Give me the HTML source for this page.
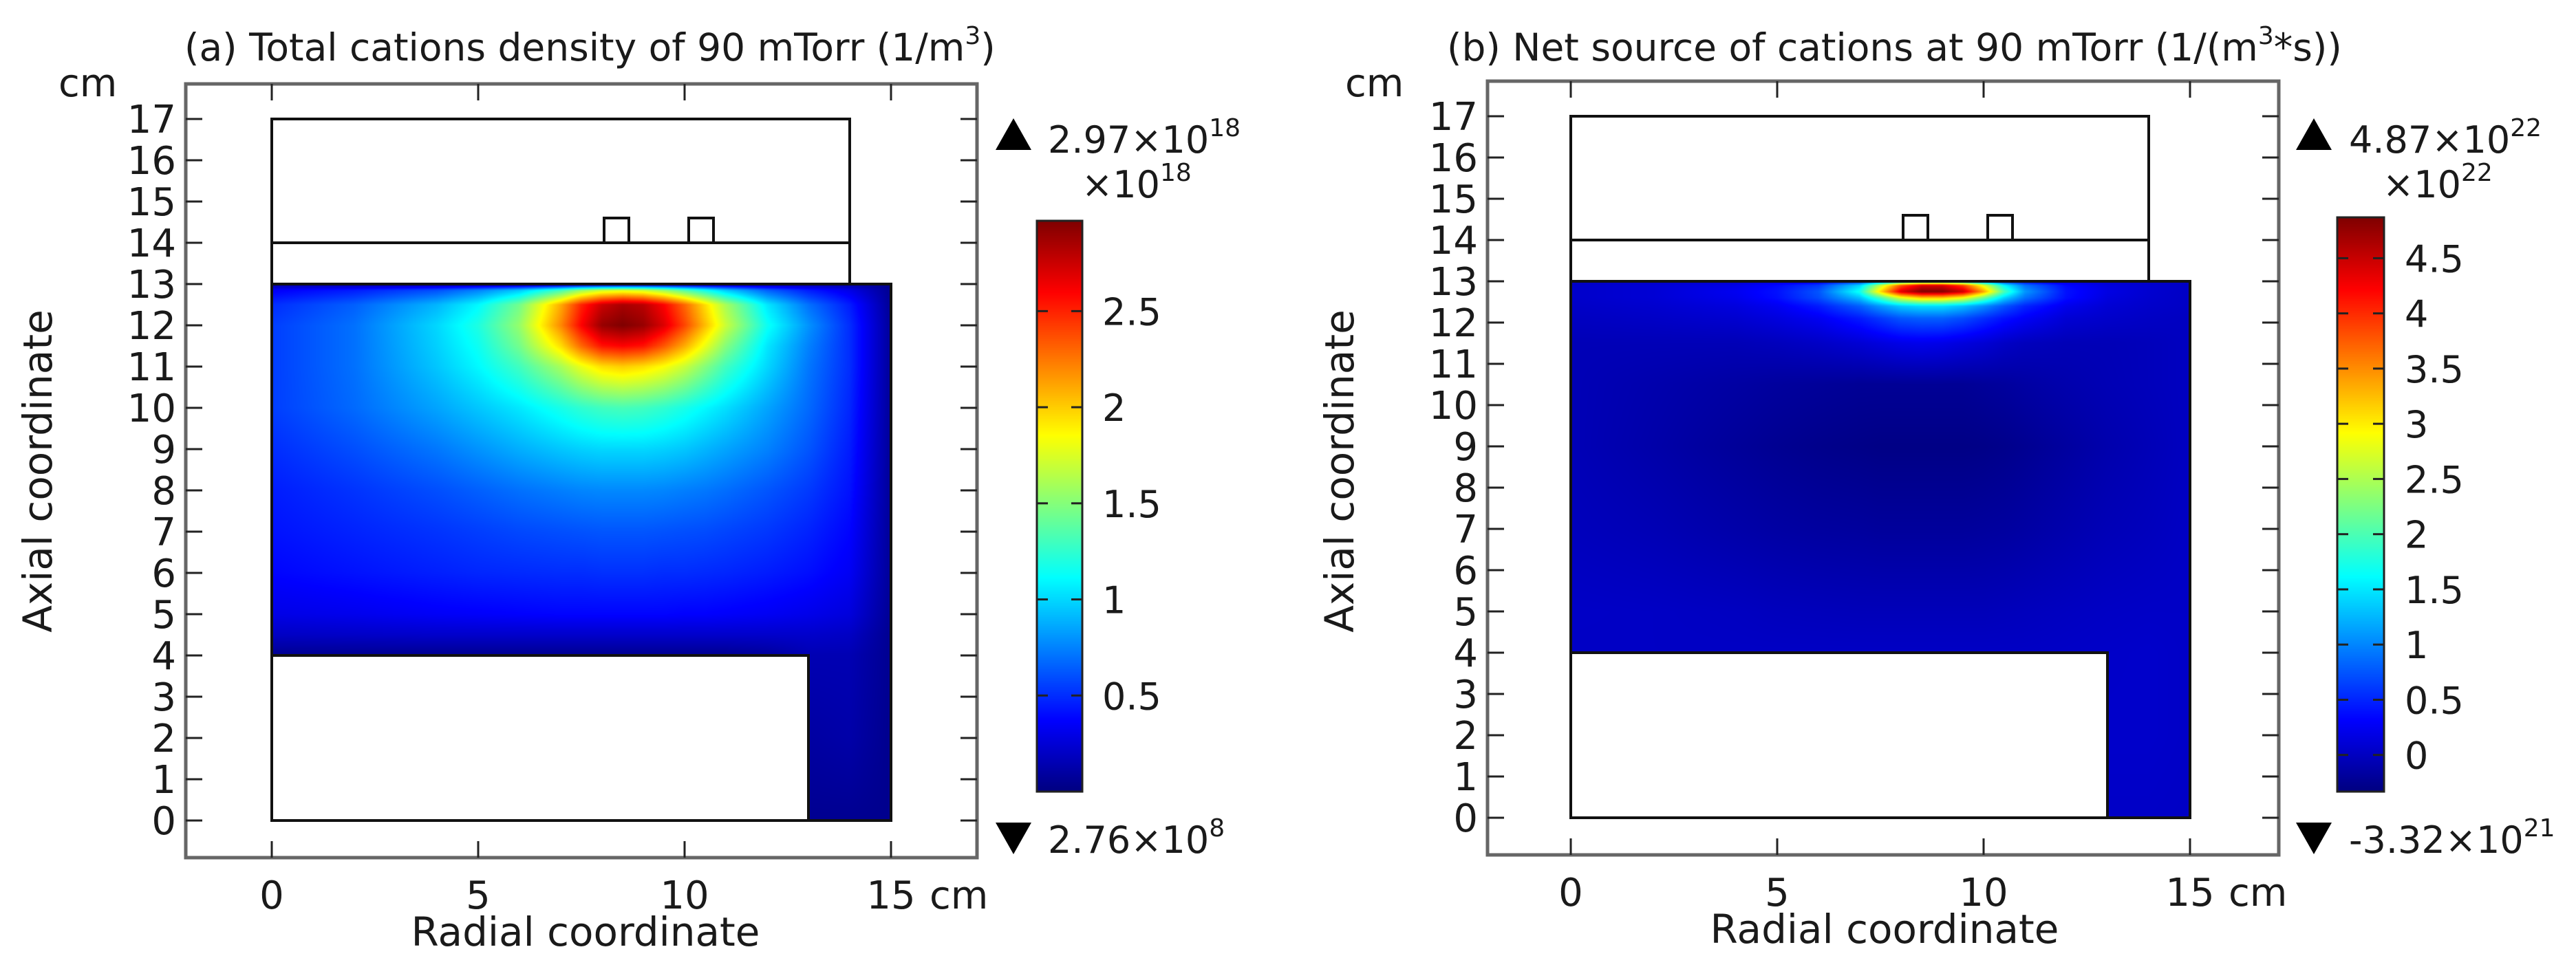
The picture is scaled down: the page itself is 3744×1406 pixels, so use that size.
<!DOCTYPE html>
<html><head><meta charset="utf-8"><style>
html,body{margin:0;padding:0;background:#fff;}
#wrap{position:relative;width:3744px;height:1406px;overflow:hidden;font-family:"DejaVu Sans","Liberation Sans",sans-serif;}
canvas{position:absolute;}
svg{position:absolute;left:0;top:0;}
text{font-family:"DejaVu Sans","Liberation Sans",sans-serif;fill:#1a1a1a;}
</style></head><body>
<div id="wrap">
<canvas id="cvA"></canvas>
<canvas id="cvB"></canvas>
<canvas id="cbA"></canvas>
<canvas id="cbB"></canvas>
<svg id="sv" width="3744" height="1406"></svg>
</div>
<script>
// grid columns (radial, cm)
const gridR = [0,2,4,5,6,7,7.5,8,8.5,9,9.5,10,10.5,11,12,13,14,15];
// panel a rows (axial, cm) and values (x1e18 1/m^3)
const gridZA = [13,12.85,12.5,12,11.5,11,10,9,8,7,6,5,4.5,4,2,0];
const valuesA = [
 [0.08,0.08,0.08,0.08,0.08,0.09,0.1,0.1,0.1,0.1,0.1,0.1,0.09,0.09,0.08,0.08,0.08,0.03],
 [0.35,0.45,0.6,0.75,0.95,1.3,1.55,1.7,1.75,1.7,1.55,1.35,1.15,0.95,0.65,0.45,0.3,0.05],
 [0.5,0.65,0.9,1.1,1.45,2.1,2.5,2.75,2.85,2.8,2.6,2.3,1.95,1.6,1.05,0.7,0.45,0.06],
 [0.55,0.7,1.0,1.2,1.55,2.2,2.6,2.9,2.97,2.9,2.7,2.4,2.05,1.7,1.15,0.8,0.5,0.07],
 [0.55,0.7,0.98,1.15,1.45,1.95,2.3,2.55,2.6,2.55,2.35,2.1,1.8,1.5,1.05,0.75,0.5,0.07],
 [0.55,0.7,0.95,1.1,1.3,1.6,1.8,1.95,2.0,1.95,1.85,1.7,1.5,1.3,1.0,0.72,0.5,0.07],
 [0.55,0.68,0.85,0.95,1.05,1.18,1.25,1.3,1.32,1.3,1.25,1.18,1.1,1.02,0.85,0.68,0.48,0.07],
 [0.5,0.6,0.72,0.8,0.88,0.95,0.98,1.0,1.0,1.0,0.98,0.95,0.9,0.85,0.75,0.62,0.45,0.07],
 [0.45,0.52,0.6,0.65,0.7,0.74,0.76,0.77,0.77,0.77,0.76,0.74,0.72,0.69,0.62,0.54,0.42,0.07],
 [0.42,0.47,0.52,0.55,0.58,0.6,0.61,0.62,0.62,0.62,0.61,0.6,0.59,0.57,0.53,0.47,0.38,0.07],
 [0.38,0.42,0.46,0.48,0.49,0.5,0.5,0.51,0.51,0.51,0.5,0.5,0.49,0.48,0.45,0.41,0.34,0.07],
 [0.3,0.32,0.35,0.36,0.37,0.38,0.38,0.38,0.38,0.38,0.38,0.37,0.37,0.36,0.34,0.31,0.27,0.06],
 [0.2,0.21,0.22,0.22,0.22,0.22,0.22,0.22,0.22,0.22,0.22,0.22,0.22,0.22,0.22,0.22,0.2,0.05],
 [0.05,0.05,0.05,0.05,0.05,0.05,0.05,0.05,0.05,0.05,0.05,0.05,0.05,0.05,0.08,0.15,0.15,0.05],
 [0.1,0.1,0.1,0.1,0.1,0.1,0.1,0.1,0.1,0.1,0.1,0.1,0.1,0.1,0.1,0.1,0.12,0.04],
 [0.05,0.05,0.05,0.05,0.05,0.05,0.05,0.05,0.05,0.05,0.05,0.05,0.05,0.05,0.05,0.05,0.05,0.04]
];
// panel b rows and values (x1e22 1/(m^3 s))
const gridZB = [13,12.9,12.75,12.6,12.4,12.1,11.5,10.5,9,7,5,4,2,0];
const valuesB = [
 [0.0,0.02,0.05,0.1,0.2,0.5,0.9,1.3,1.5,1.5,1.3,0.9,0.5,0.3,0.1,0.05,0.02,0.0],
 [0.05,0.1,0.2,0.35,0.6,1.4,2.6,3.8,4.4,4.4,3.9,2.8,1.6,0.9,0.35,0.15,0.08,0.02],
 [0.05,0.1,0.25,0.4,0.75,1.7,3.1,4.4,4.87,4.85,4.5,3.4,2.0,1.1,0.4,0.18,0.08,0.02],
 [0.05,0.1,0.22,0.38,0.7,1.3,2.0,2.8,3.2,3.2,2.9,2.2,1.4,0.9,0.38,0.15,0.07,0.02],
 [0.03,0.07,0.15,0.25,0.45,0.8,1.1,1.35,1.45,1.45,1.3,1.05,0.75,0.5,0.22,0.1,0.05,0.02],
 [0.0,0.03,0.08,0.15,0.25,0.45,0.6,0.75,0.8,0.8,0.7,0.55,0.4,0.28,0.1,0.05,0.02,0.0],
 [-0.05,-0.05,-0.05,-0.02,0.03,0.1,0.15,0.2,0.22,0.2,0.15,0.1,0.03,-0.02,-0.05,-0.05,-0.03,0.0],
 [-0.05,-0.1,-0.15,-0.18,-0.2,-0.22,-0.22,-0.22,-0.22,-0.22,-0.22,-0.2,-0.18,-0.15,-0.1,-0.06,-0.03,0.0],
 [-0.05,-0.12,-0.2,-0.24,-0.27,-0.29,-0.3,-0.3,-0.3,-0.3,-0.3,-0.29,-0.27,-0.24,-0.17,-0.1,-0.05,0.0],
 [-0.02,-0.06,-0.12,-0.15,-0.17,-0.18,-0.19,-0.19,-0.19,-0.19,-0.19,-0.18,-0.17,-0.15,-0.1,-0.05,-0.02,0.02],
 [0.03,0.02,0.0,-0.02,-0.03,-0.04,-0.04,-0.04,-0.04,-0.04,-0.04,-0.04,-0.03,-0.02,0.0,0.02,0.03,0.03],
 [0.02,0.02,0.02,0.02,0.02,0.02,0.02,0.02,0.02,0.02,0.02,0.02,0.02,0.02,0.03,0.04,0.05,0.03],
 [0.05,0.05,0.05,0.05,0.05,0.05,0.05,0.05,0.05,0.05,0.05,0.05,0.05,0.05,0.05,0.05,0.05,0.03],
 [0.03,0.03,0.03,0.03,0.03,0.03,0.03,0.03,0.03,0.03,0.03,0.03,0.03,0.03,0.03,0.03,0.03,0.02]
];
const rangeA = [0, 2.97];
const rangeB = [-0.332, 4.87];
const yTicks = [0,1,2,3,4,5,6,7,8,9,10,11,12,13,14,15,16,17];
const xTicks = [0,5,10,15];
const cbTicksA = [0.5,1,1.5,2,2.5];
const cbTicksB = [0,0.5,1,1.5,2,2.5,3,3.5,4,4.5];

const PX = 60;
const panels = [
 {id:'a', ox:395, oy:1193, frame:[270,122,1420,1247], cv:'cvA', cb:'cbA', zs:gridZA, vals:valuesA, range:rangeA, cbx:[1507,1573], cby:[321,1151], cbTicks:cbTicksA, cbLab:1602,
  title:'(a) Total cations density of 90 mTorr (1/m', titleEnd:')', titleX:268, maxT:['2.97×10','18'], minT:['2.76×10','8'], mult:'18', triX:1447, txtX:1523, multX:1572, cmX:85},
 {id:'b', ox:2283, oy:1189, frame:[2162,118,3312,1243], cv:'cvB', cb:'cbB', zs:gridZB, vals:valuesB, range:rangeB, cbx:[3397,3465], cby:[316,1151], cbTicks:cbTicksB, cbLab:3495,
  title:'(b) Net source of cations at 90 mTorr (1/(m', titleEnd:'*s))', titleX:2103, maxT:['4.87×10','22'], minT:['-3.32×10','21'], mult:'22', triX:3337, txtX:3414, multX:3463, cmX:1955}
];

function jet(t){
  t=Math.max(0,Math.min(1,t));
  const c=x=>Math.max(0,Math.min(1,x));
  return [c(1.5-Math.abs(4*t-3))*255, c(1.5-Math.abs(4*t-2))*255, c(1.5-Math.abs(4*t-1))*255];
}
function findIdx(arr,v,desc){
  for(let i=0;i<arr.length-1;i++){
    const a=arr[i],b=arr[i+1];
    if(desc? (v<=a&&v>=b) : (v>=a&&v<=b)) return i;
  }
  return desc? (v>arr[0]?0:arr.length-2) : (v<arr[0]?0:arr.length-2);
}
function sample(p,r,z){
  const i=findIdx(gridR,r,false), j=findIdx(p.zs,z,true);
  const tr=Math.max(0,Math.min(1,(r-gridR[i])/(gridR[i+1]-gridR[i])));
  const tz=Math.max(0,Math.min(1,(p.zs[j]-z)/(p.zs[j]-p.zs[j+1])));
  const v00=p.vals[j][i],v01=p.vals[j][i+1],v10=p.vals[j+1][i],v11=p.vals[j+1][i+1];
  return (v00*(1-tr)+v01*tr)*(1-tz)+(v10*(1-tr)+v11*tr)*tz;
}

const sv=document.getElementById('sv');
const NS='http://www.w3.org/2000/svg';
function mk(tag,attrs,text){
  const e=document.createElementNS(NS,tag);
  for(const k in attrs) e.setAttribute(k,attrs[k]);
  if(text!==undefined) e.textContent=text;
  sv.appendChild(e); return e;
}

panels.forEach(p=>{
  const X=r=>p.ox+r*PX, Y=z=>p.oy-z*PX;
  const cv=document.getElementById(p.cv);
  const W=15*PX,H=13*PX;
  cv.width=W;cv.height=H;cv.style.left=X(0)+'px';cv.style.top=Y(13)+'px';
  const ctx=cv.getContext('2d'),img=ctx.createImageData(W,H);
  for(let jj=0;jj<H;jj++){
    const z=13-(jj+0.5)/PX;
    for(let ii=0;ii<W;ii++){
      const r=(ii+0.5)/PX;
      const k=(jj*W+ii)*4;
      if(z<4&&r<13){img.data[k+3]=0;continue;}
      const v=sample(p,r,z);
      const c=jet((v-p.range[0])/(p.range[1]-p.range[0]));
      img.data[k]=c[0];img.data[k+1]=c[1];img.data[k+2]=c[2];img.data[k+3]=255;
    }
  }
  ctx.putImageData(img,0,0);
  const cb=document.getElementById(p.cb);
  const cw=p.cbx[1]-p.cbx[0], ch=p.cby[1]-p.cby[0];
  cb.width=cw;cb.height=ch;cb.style.left=p.cbx[0]+'px';cb.style.top=p.cby[0]+'px';
  const cc=cb.getContext('2d');
  for(let y=0;y<ch;y++){const c=jet(1-y/ch);cc.fillStyle='rgb('+c.map(Math.round).join(',')+')';cc.fillRect(0,y,cw,1);}
  const cbVal=v=>p.cby[1]-(v-p.range[0])/(p.range[1]-p.range[0])*ch;
  const cbo=mk('rect',{x:p.cbx[0],y:p.cby[0],width:cw,height:ch,fill:'none',stroke:'#222','stroke-width':3});
  
  
  p.cbTicks.forEach(v=>{
    const y=cbVal(v);
    const t1=mk('line',{x1:p.cbx[0],x2:p.cbx[0]+16,y1:y,y2:y,stroke:'#222','stroke-width':3});
    
    
    const t2=mk('line',{x1:p.cbx[1]-16,x2:p.cbx[1],y1:y,y2:y,stroke:'#222','stroke-width':3});
    
    
    const tl=mk('text',{x:p.cbLab,y:y+20,'font-size':54},String(v));
    
    
  });
  const up=mk('polygon',{points:`${p.triX},218 ${p.triX+52},218 ${p.triX+26},172`,fill:'#000'});
  
  
  const dn=mk('polygon',{points:`${p.triX},1196 ${p.triX+52},1196 ${p.triX+26},1242`,fill:'#000'});
  
  
  const mx=mk('text',{x:p.txtX,y:222,'font-size':54});
  
  
  mx.innerHTML=p.maxT[0]+'<tspan dy="-24" font-size="36">'+p.maxT[1]+'</tspan>';
  const mu=mk('text',{x:p.multX,y:287,'font-size':54});
  
  
  mu.innerHTML='×10<tspan dy="-24" font-size="36">'+p.mult+'</tspan>';
  const mn=mk('text',{x:p.txtX,y:1240,'font-size':54});
  
  
  mn.innerHTML=p.minT[0]+'<tspan dy="-24" font-size="36">'+p.minT[1]+'</tspan>';
  const geo=[
    [[X(0),Y(13)],[X(0),Y(17)],[X(14),Y(17)],[X(14),Y(13)]],
    [[X(0),Y(14)],[X(14),Y(14)]],
    [[X(8.05),Y(14)],[X(8.05),Y(14.6)],[X(8.65),Y(14.6)],[X(8.65),Y(14)]],
    [[X(10.1),Y(14)],[X(10.1),Y(14.6)],[X(10.7),Y(14.6)],[X(10.7),Y(14)]],
    [[X(0),Y(4)],[X(0),Y(13)],[X(15),Y(13)],[X(15),Y(0)],[X(0),Y(0)],[X(0),Y(4)],[X(13),Y(4)],[X(13),Y(0)]]
  ];
  geo.forEach((g,gi)=>{
    const pl=mk('polyline',{points:g.map(q=>q.join(',')).join(' '),fill:'none',stroke:'#111','stroke-width':4,'stroke-linejoin':'miter'});
    
    
  });
  const f=p.frame;
  const fr=mk('rect',{x:f[0],y:f[1],width:f[2]-f[0],height:f[3]-f[1],fill:'none',stroke:'#666','stroke-width':5});
  
  
  yTicks.forEach(z=>{
    const y=Y(z);
    const a=mk('line',{x1:f[0],x2:f[0]+24,y1:y,y2:y,stroke:'#222','stroke-width':3});
    
    
    const b=mk('line',{x1:f[2]-24,x2:f[2],y1:y,y2:y,stroke:'#222','stroke-width':3});
    
    
    const t=mk('text',{x:f[0]-14,y:y+20,'font-size':56,'text-anchor':'end'},String(z));
    
    
  });
  xTicks.forEach(r=>{
    const x=X(r);
    const a=mk('line',{x1:x,x2:x,y1:f[1],y2:f[1]+24,stroke:'#222','stroke-width':3});
    
    
    const b=mk('line',{x1:x,x2:x,y1:f[3]-24,y2:f[3],stroke:'#222','stroke-width':3});
    
    
    const t=mk('text',{x:x,y:f[3]+74,'font-size':56,'text-anchor':'middle'},String(r));
    
    
  });
  const cmx=mk('text',{x:X(15)+56,y:f[3]+74,'font-size':56},'cm');
  
  
  const cmy=mk('text',{x:p.cmX,y:140,'font-size':56},'cm');
  
  
  const xl=mk('text',{x:X(7.6),y:f[3]+128,'font-size':58,'text-anchor':'middle'},'Radial coordinate');
  
  
  const yx=f[0]-195;
  const yl=mk('text',{x:yx,y:685,'font-size':58,'text-anchor':'middle',transform:`rotate(-90 ${yx} 685)`},'Axial coordinate');
  
  
  const tt=mk('text',{x:p.titleX,y:88,'font-size':55});
  
  
  tt.innerHTML=p.title+'<tspan dy="-24" font-size="36">3</tspan><tspan dy="24">'+p.titleEnd+'</tspan>';
});
</script>
</body></html>
